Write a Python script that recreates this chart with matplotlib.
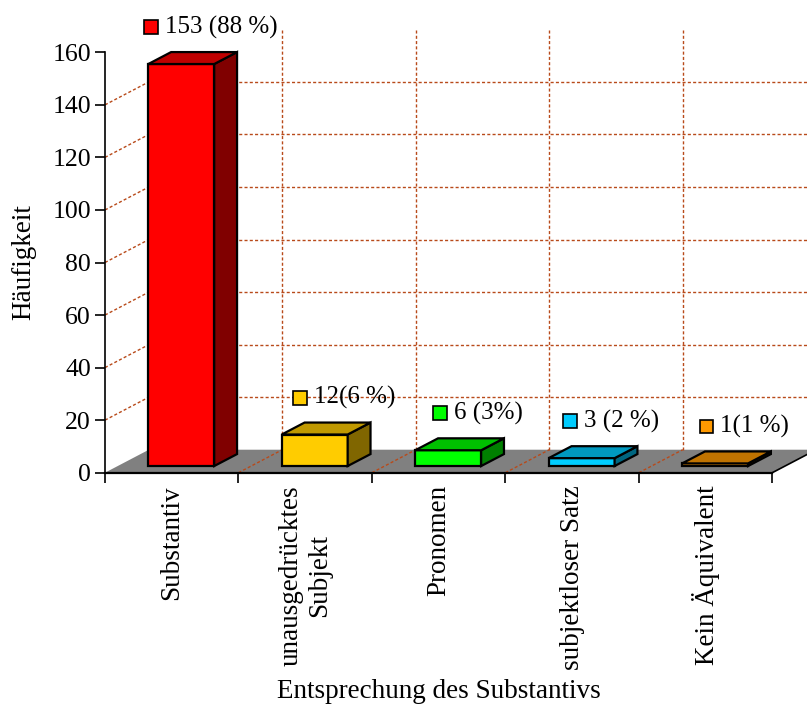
import matplotlib
matplotlib.use('Agg')
import matplotlib.pyplot as plt
from matplotlib.patches import Polygon, Rectangle
from matplotlib.offsetbox import DrawingArea, TextArea, HPacker, AnnotationBbox

plt.rcParams['font.family'] = ['Liberation Serif', 'DejaVu Serif']

categories = ['Substantiv', 'unausgedrücktes\nSubjekt', 'Pronomen',
              'subjektloser Satz', 'Kein Äquivalent']
values = [153, 12, 6, 3, 1]
value_labels = ['153 (88 %)', '12(6 %)', '6 (3%)', '3 (2 %)', '1(1 %)']
front_colors = ['#ff0000', '#ffcc00', '#00ff00', '#00ccff', '#ff9900']
top_colors = ['#c00000', '#c09900', '#00c000', '#0099c0', '#c07300']
side_colors = ['#800000', '#806600', '#008000', '#006680', '#804d00']
yticks = [0, 20, 40, 60, 80, 100, 120, 140, 160]

# fake 3d: depth offset of the whole scene (data units)
DX, DY = 0.329, 8.75
Z0, DZ = 0.29, 0.52        # where the bars sit in depth
BAR_L, BAR_W = 0.229, 0.494
grid_c = '#b84a1a'
grid_ls = (0, (2.2, 1.6))

fig = plt.figure(figsize=(8.07, 7.09), dpi=100)
ax = fig.add_axes([105 / 807, 1 - 472.7 / 709, 667.3 / 807, 420.4 / 709])
ax.set_xlim(0, 5)
ax.set_ylim(0, 160)

n = len(values)

# floor
floor = Polygon([(0, 0), (n, 0), (n + DX, DY), (DX, DY)], closed=True,
                fc='#808080', ec='none', zorder=1, clip_on=False)
ax.add_patch(floor)
ax.plot([n, n + DX], [0, DY], color='black', lw=1.2, zorder=2, clip_on=False)

# grid lines: left wall, back wall, floor
for v in yticks[1:-1]:
    ax.plot([0, DX], [v, v + DY], color=grid_c, lw=1, ls=grid_ls, zorder=2, clip_on=False)
    ax.plot([DX, n + DX], [v + DY, v + DY], color=grid_c, lw=1, ls=grid_ls, zorder=2, clip_on=False)
for i in range(1, n):
    ax.plot([i + DX, i + DX], [DY, 160 + DY], color=grid_c, lw=1, ls=grid_ls, zorder=2, clip_on=False)
    ax.plot([i, i + DX], [0, DY], color=grid_c, lw=1, ls=grid_ls, zorder=2, clip_on=False)

# bars
y0 = Z0 * DY
bdx, bdy = DZ * DX, DZ * DY
for i, v in enumerate(values):
    left = i + BAR_L + Z0 * DX
    right = left + BAR_W
    ax.bar(left + BAR_W / 2, v, width=BAR_W, bottom=y0, color=front_colors[i],
           edgecolor='black', linewidth=1.6, zorder=4, clip_on=False)
    top = Polygon([(left, y0 + v), (right, y0 + v), (right + bdx, y0 + v + bdy),
                   (left + bdx, y0 + v + bdy)], closed=True, fc=top_colors[i],
                  ec='black', lw=1.6, zorder=4, clip_on=False)
    side = Polygon([(right, y0), (right + bdx, y0 + bdy), (right + bdx, y0 + v + bdy),
                    (right, y0 + v)], closed=True, fc=side_colors[i],
                   ec='black', lw=1.6, zorder=4, clip_on=False)
    ax.add_patch(side)
    ax.add_patch(top)

    # value label with small colour key
    da = DrawingArea(10, 10, 0, 0)
    da.add_artist(Rectangle((0, 0), 10, 10, fc=front_colors[i], ec='black', lw=1.2))
    ta = TextArea(value_labels[i], textprops=dict(fontsize=18))
    box = HPacker(children=[da, ta], align='center', pad=0, sep=5)
    ab = AnnotationBbox(box, (left + BAR_W / 2 + 0.22, y0 + v + bdy + 9.5),
                        xycoords='data', frameon=False, box_alignment=(0.5, 0.5),
                        annotation_clip=False, zorder=5)
    ax.add_artist(ab)

# axes
for s in ['top', 'right']:
    ax.spines[s].set_visible(False)
ax.spines['left'].set_linewidth(1.2)
ax.spines['bottom'].set_linewidth(1.6)
ax.spines['bottom'].set_zorder(3)
ax.set_yticks(yticks)
ax.tick_params(axis='y', direction='out', length=7.2, width=1.2, labelsize=18.5, pad=3)
ax.set_xticks(range(n + 1))
ax.set_xticklabels([''] * (n + 1))
ax.tick_params(axis='x', which='major', direction='out', length=7.2, width=1.2)
ax.set_xticks([i + 0.5 for i in range(n)], minor=True)
ax.set_xticklabels(categories, minor=True, rotation=90, multialignment='center')
ax.tick_params(axis='x', which='minor', length=0, labelsize=19.5, pad=9)
ax.set_facecolor('none')

fig.text(23.5 / 807, 1 - 262.5 / 709, 'Häufigkeit', rotation=90, ha='center',
         va='center', fontsize=19.5)
fig.text(438.6 / 807, 1 - 692 / 709, 'Entsprechung des Substantivs', ha='center',
         va='center', fontsize=19.5)

fig.savefig('out.png', dpi=100)
